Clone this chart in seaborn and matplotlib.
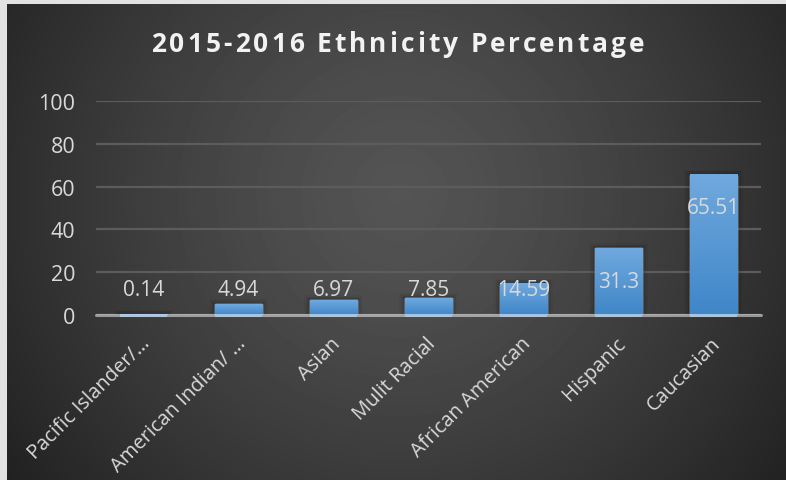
import numpy as np
import pandas as pd
import matplotlib
matplotlib.use("Agg")
import matplotlib.pyplot as plt
import matplotlib.transforms as mtransforms
import seaborn as sns
from matplotlib.colors import LinearSegmentedColormap

# ---- data ----
categories = ["Pacific Islander/\u2026", "American Indian/ \u2026", "Asian", "Mulit Racial",
              "African American", "Hispanic", "Caucasian"]
values = [0.14, 4.94, 6.97, 7.85, 14.59, 31.3, 65.51]
value_labels = ["0.14", "4.94", "6.97", "7.85", "14.59", "31.3", "65.51"]
y_ticks = [0, 20, 40, 60, 80, 100]
title = "2015-2016 Ethnicity Percentage"

sns.set_theme(style="dark")
plt.rcParams["font.family"] = ["Open Sans", "DejaVu Sans"]

W, H = 786, 481
fig = plt.figure(figsize=(W / 100, H / 100), dpi=100)
fig.patch.set_facecolor("#e2e2e2")

# background radial gradient
bg = fig.add_axes([7 / W, 0, 1 - 7 / W, 1 - 5 / H])
bg.set_axis_off()
yy, xx = np.mgrid[0:476, 0:779]
r = np.hypot((xx - 393) / 1.0, (yy - 190) / 1.0)
r = r / r.max()
img = 0.33 - (0.33 - 0.13) * np.clip(r, 0, 1) ** 1.3
bg.imshow(img, cmap="gray", vmin=0, vmax=1, aspect="auto", extent=[0, 1, 0, 1],
          origin="upper", interpolation="bilinear")
bg.set_xlim(0, 1)
bg.set_ylim(0, 1)

# main axes
ax = fig.add_axes([96 / W, 165 / H, 665 / W, 214 / H])
ax.patch.set_alpha(0)
df = pd.DataFrame({"cat": categories, "val": values})
sns.barplot(data=df, x="cat", y="val", ax=ax, width=0.5, color="#4a90d2",
            saturation=1, zorder=3)

bar_cmap = LinearSegmentedColormap.from_list("bar", ["#3f86c8", "#70a9de"])
grad = np.linspace(0, 1, 256).reshape(-1, 1)
for p in list(ax.patches):
    x0, y0 = p.get_x(), p.get_y()
    w, h = p.get_width(), p.get_height()
    # soft shadow
    for k, a in enumerate([0.10, 0.07, 0.04]):
        dx = 0.02 * (k + 1)
        ax.add_patch(plt.Rectangle((x0 - dx, y0), w + 2 * dx, h + 0.8 * (k + 1),
                                   color="black", alpha=a, lw=0, zorder=2))
    # blue under the axis line
    ax.add_patch(plt.Rectangle((x0, -1.0), w, 1.0 + h, color="#4a90d2", lw=0,
                               zorder=3, clip_on=False))
    ax.imshow(grad, cmap=bar_cmap, aspect="auto", origin="lower",
              extent=[x0, x0 + w, y0, y0 + h], zorder=3.5)

ax.set_xlim(-0.5, len(categories) - 0.5)
ax.set_ylim(0, 100)
ax.set_yticks(y_ticks)
ax.set_xlabel("")
ax.set_ylabel("")
for s in ax.spines.values():
    s.set_visible(False)
ax.yaxis.grid(True, color="#5c5c5c", lw=1.6)
ax.xaxis.grid(False)
ax.set_axisbelow(True)
ax.axhline(0, color="white", lw=2.2, alpha=0.5, zorder=6, clip_on=False)

ax.tick_params(axis="y", colors="#d9d9d9", labelsize=15.5, length=0, pad=15)
ax.tick_params(axis="x", colors="#d9d9d9", labelsize=14.5, length=0, pad=13)
offset = mtransforms.ScaledTranslation(-3 / 100, 0, fig.dpi_scale_trans)
for lab in ax.get_xticklabels():
    lab.set_rotation(45)
    lab.set_ha("right")
    lab.set_va("top")
    lab.set_rotation_mode("anchor")
    lab.set_transform(lab.get_transform() + offset)

for i, (v, t) in enumerate(zip(values, value_labels)):
    ax.text(i, max(v - 15.5, 12.0), t, ha="center", va="center", color="#d9d9d9",
            fontsize=15, zorder=7)

# title with letter spacing
renderer = fig.canvas.get_renderer()
tkw = dict(color="#f2f2f2", fontsize=19, fontweight="bold", va="center", ha="left")
probe = fig.text(0, 0, title, **tkw)
full_w = probe.get_window_extent(renderer).width
probe.remove()
target_w = 493.0
spacing = (target_w - full_w) / (len(title) - 1)
x_start = 398 - target_w / 2
ty = 1 - 45 / H
for i, ch in enumerate(title):
    if i == 0:
        pw = 0.0
    else:
        pt = fig.text(0, 0, title[:i] + "|", **tkw)
        bar_t = fig.text(0, 0, "|", **tkw)
        pw = pt.get_window_extent(renderer).width - bar_t.get_window_extent(renderer).width
        pt.remove()
        bar_t.remove()
    fig.text((x_start + pw + i * spacing) / W, ty, ch, **tkw)

fig.savefig("out.png", dpi=100, facecolor=fig.get_facecolor())
